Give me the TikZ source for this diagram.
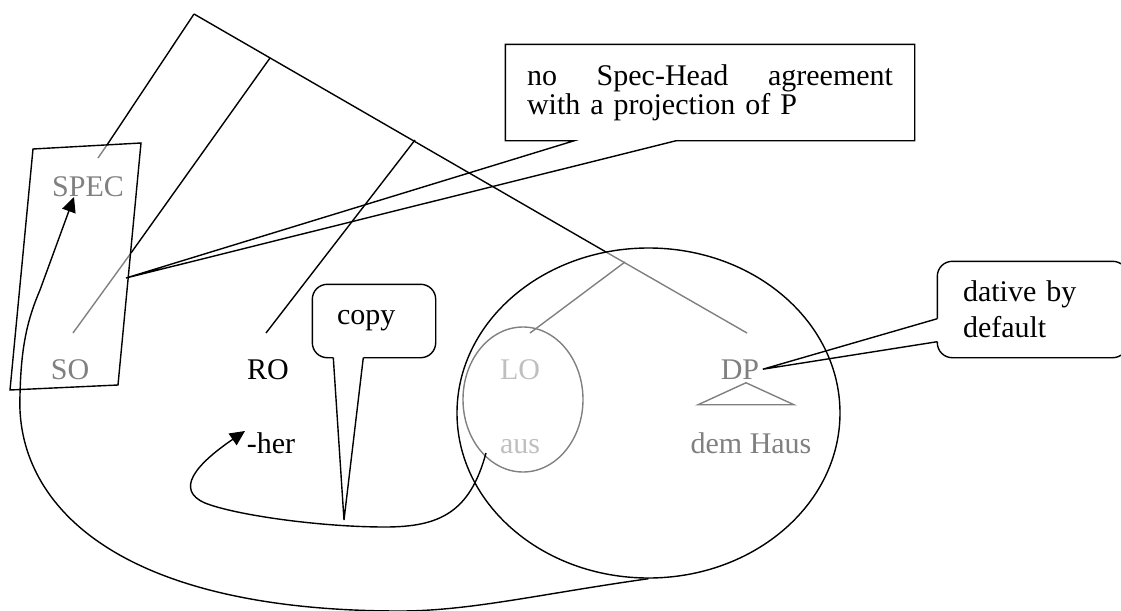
\documentclass[tikz,border=0pt]{standalone}
\usepackage{fontspec}
\setmainfont{Liberation Serif}
\usepackage{tikz}
\usetikzlibrary{positioning,shapes.geometric,arrows.meta,calc}
\definecolor{treegray}{RGB}{128,128,128}
\definecolor{palegray}{RGB}{191,191,191}

\begin{document}
\begin{tikzpicture}[x=0.5pt, y=-0.5pt, line width=0.7pt,
    font=\fontsize{15}{14.5}\selectfont,
    lbl/.style={anchor=base, inner sep=1.5pt},
    note/.style={inner ysep=0pt, align=left, minimum height=47.5pt},
    move/.style={-{Triangle[length=7.5pt,width=7pt]}}]
  \useasboundingbox (0,0) rectangle (1121,611);

  % tree
  \coordinate (top) at (194,14);
  \coordinate (mid1) at (270,58);
  \coordinate (mid2) at (415,140);
  \coordinate (pp) at (625,262);
  \coordinate (specCut) at (107,145);
  \coordinate (specEnd) at (98,158);
  \coordinate (soCut) at (131,253);
  \coordinate (soEnd) at (73,333);
  \coordinate (roEnd) at (266,333);
  \coordinate (loEnd) at (530,333);
  \coordinate (dpEnd) at (747,333);
  \coordinate (spineCut) at (606,252);

  \node[lbl, text=treegray] (spec) at (88,196) {SPEC};
  \node[lbl, text=treegray] (so) at (70,379) {SO};
  \node[lbl] (ro) at (268,379) {RO};
  \node[lbl, text=palegray] (lo) at (520,379) {LO};
  \node[lbl, text=treegray] (dp) at (740,379) {DP};
  \node[lbl] (her) at (271,453) {-her};
  \node[lbl, text=palegray] (aus) at (520,453) {aus};
  \node[lbl, text=treegray] (haus) at (751,453) {dem Haus};

  \draw (top) -- (spineCut);
  \draw[treegray] (spineCut) -- (dpEnd);
  \draw (top) -- (specCut);
  \draw[treegray] (specCut) -- (specEnd);
  \draw (mid1) -- (soCut);
  \draw[treegray] (soCut) -- (soEnd);
  \draw (mid2) -- (roEnd);
  \draw[treegray] (pp) -- (loEnd);
  \draw[treegray] ($(dp.south)+(6,0)$) -- +(-48,22) -- +(48,22) -- cycle;

  % boxes round the phrases
  \draw (33,149) -- (141,143) -- (118,385) -- (10,390) -- cycle;
  \node[draw, ellipse, inner sep=0pt, minimum width=191.5pt,
        minimum height=165pt] (ppCircle) at (648.5,413) {};
  \node[draw=treegray, ellipse, inner sep=0pt, minimum width=60pt,
        minimum height=72.5pt] (loCircle) at (523,399.5) {};

  % movement
  \coordinate (specIn) at (74,197);
  \coordinate (ausOut) at (486,453);
  \coordinate (herIn) at (245,431);
  \draw[move] (ppCircle.south) .. controls (540,594) and (470,611) .. (400,611)
    .. controls (110,611) and (15,500) .. (20,395)
    .. controls (21,345) and (28,318) .. (40,290) -- (specIn);
  \draw[move] (ausOut) .. controls (470,512) and (440,527) .. (385,527)
    .. controls (320,527) and (235,515) .. (205,503)
    .. controls (175,490) and (195,465) .. (herIn);

  % callouts
  \node[note, text width=183pt, inner xsep=10.5pt] (noAgr) at (710,92.5)
    {no\hfill Spec-Head\hfill agreement\\with a projection of P};
  \coordinate (agrTip) at (126,278);
  \draw (noAgr.south west) -- (noAgr.north west) -- (noAgr.north east)
    -- (noAgr.south east) -- ($(noAgr.south west)+(171,0)$) -- (agrTip)
    -- ($(noAgr.south west)+(69,0)$) -- cycle;

  \node[note, text width=37pt, inner xsep=12pt, minimum height=36pt]
    (copyNote) at (374,321) {copy};
  \coordinate (copyTip) at (344,520);
  \draw[rounded corners=7.5pt] ($(copyNote.south west)+(51,0)$) -- (copyNote.south east)
    -- (copyNote.north east) -- (copyNote.north west) -- (copyNote.south west)
    -- ($(copyNote.south west)+(21,0)$);
  \draw ($(copyNote.south west)+(21,0)$) -- (copyTip)
    -- ($(copyNote.south west)+(51,0)$);

  \node[note, text width=69.5pt, inner xsep=12.5pt,
        font=\fontsize{15}{18}\selectfont] (dative) at (1032.5,309.5)
    {dative by\\default};
  \draw[rounded corners=7.5pt] ($(dative.south west)+(0,-16)$) -- (dative.south west)
    -- (dative.south east) -- (dative.north east) -- (dative.north west)
    -- ($(dative.south west)+(0,-39)$);
  \draw ($(dative.south west)+(0,-16)$) -- (dp.east)
    -- ($(dative.south west)+(0,-39)$);
\end{tikzpicture}
\end{document}
